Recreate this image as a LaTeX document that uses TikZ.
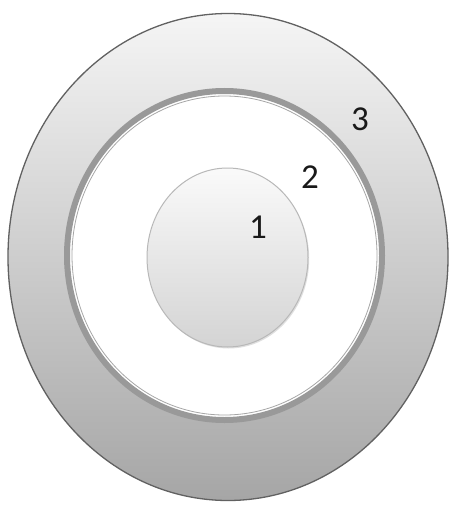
\documentclass[tikz,border=0pt]{standalone}
\usepackage{fontspec}
\setmainfont{Carlito}
\usetikzlibrary{shapes.geometric,shadows}

\begin{document}
\begin{tikzpicture}[x=1pt, y=-1pt]

\tikzset{
  outerband/.style={
    ellipse,
    draw=black!62,
    line width=1.3pt,
    inner sep=0pt,
    top color=black!4,
    middle color=black!14,
    bottom color=black!35
  },
  ringband/.style={
    ellipse,
    draw=black!40,
    line width=6pt,
    fill=white,
    inner sep=0pt
  },
  ringline/.style={
    ellipse,
    draw=black!35,
    line width=0.8pt,
    inner sep=0pt
  },
  core/.style={
    ellipse,
    draw=black!28,
    line width=1pt,
    inner sep=0pt,
    top color=black!2,
    bottom color=black!17,
    drop shadow={shadow xshift=1.2pt, shadow yshift=-1.5pt, opacity=0.25}
  },
  numlabel/.style={
    font=\fontsize{35}{40}\selectfont,
    text=black!90,
    inner sep=0pt
  }
}

\useasboundingbox (0,0) rectangle (450,505);

% nested ellipses, outermost first
\node[outerband, minimum width=440, minimum height=487] (band3) at (228,257) {};
\node[ringband, minimum width=315, minimum height=329] (band2) at (224.5,255.5) {};
\node[ringline, minimum width=305, minimum height=319] (band2in) at (224.5,255.5) {};
\node[core, minimum width=161, minimum height=179] (band1) at (227.5,257.5) {};

% numbers
\node[numlabel] (lab1) at (258,227) {1};
\node[numlabel] (lab2) at (310,177) {2};
\node[numlabel] (lab3) at (360,119) {3};

\end{tikzpicture}
\end{document}
